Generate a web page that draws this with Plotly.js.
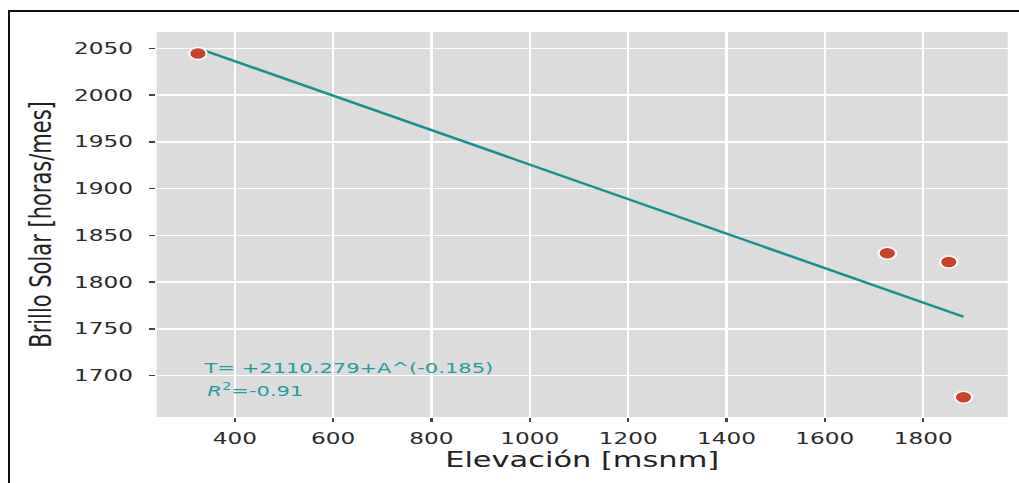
<!DOCTYPE html>
<html>
<head>
<meta charset="utf-8">
<script src="https://cdn.plot.ly/plotly-3.0.1.min.js"></script>
<style>
  html, body { margin: 0; padding: 0; background: #fff; overflow: hidden; }
  #wrap { position: absolute; left: 0; top: 0; width: 703px; height: 483px;
          transform: scaleX(1.45); transform-origin: 0 0; }
  #chart { width: 703px; height: 483px; }
  #frame { position: absolute; left: 8px; top: 10px; width: 1200px; height: 700px;
           border: 2px solid #111; pointer-events: none; }
</style>
</head>
<body>
<div id="wrap"><div id="chart"></div></div>
<div id="frame"></div>
<script>
// Observed stations
const elevation = [325, 1727, 1852, 1882];
const sunshine = [2044.5, 1830.8, 1821.5, 1677];
// Fitted trend line endpoints
const fitElevation = [325, 1882];
const fitSunshine = [2050, 1763];
const xTicks = [400, 600, 800, 1000, 1200, 1400, 1600, 1800];
const yTicks = [1700, 1750, 1800, 1850, 1900, 1950, 2000, 2050];
const eqText = 'T= +2110.279+A^(-0.185)';
const r2Text = '<i>R</i><sup>2</sup>=-0.91';

const teal = '#17918f';
const traces = [
  {
    x: fitElevation, y: fitSunshine, type: 'scatter', mode: 'lines',
    line: { color: teal, width: 2.4 }, hoverinfo: 'skip', showlegend: false
  },
  {
    x: elevation, y: sunshine, type: 'scatter', mode: 'markers',
    marker: { color: '#c8432a', size: 12, line: { color: '#ffffff', width: 1.5 } },
    showlegend: false
  }
];

const font = { family: 'DejaVu Sans, sans-serif', color: '#333' };
const layout = {
  width: 703, height: 483,
  margin: { l: 108, r: 8, t: 32, b: 66 },
  paper_bgcolor: 'rgba(0,0,0,0)',
  plot_bgcolor: '#dcdcdc',
  font: font,
  showlegend: false,
  xaxis: {
    range: [241, 1972],
    tickvals: xTicks,
    ticktext: xTicks.map(String),
    tickfont: { family: 'DejaVu Sans, sans-serif', size: 16, color: '#2a2a2a' },
    ticks: 'outside', ticklen: 4, tickwidth: 1.5, tickcolor: '#444',
    ticklabelstandoff: 3,
    showgrid: true, gridcolor: '#ffffff', gridwidth: 1.5,
    zeroline: false, showline: false,
    title: { text: 'Elevación [msnm]', font: { family: 'DejaVu Sans, sans-serif', size: 21, color: '#222' }, standoff: 2 },
    automargin: false
  },
  yaxis: {
    range: [1655.8, 2067.4],
    tickvals: yTicks,
    ticktext: yTicks.map(String),
    tickfont: { family: 'DejaVu Sans, sans-serif', size: 16, color: '#2a2a2a' },
    ticks: 'outside', ticklen: 4, tickwidth: 1.5, tickcolor: '#444',
    ticklabelstandoff: 8,
    showgrid: true, gridcolor: '#ffffff', gridwidth: 1.5,
    zeroline: false, showline: false,
    title: { text: 'Brillo Solar [horas/mes]', font: { family: 'DejaVu Sans, sans-serif', size: 21, color: '#222' }, standoff: 9 },
    automargin: false
  },
  annotations: [
    { x: 329, y: 1708, xref: 'x', yref: 'y', text: eqText, showarrow: false,
      xanchor: 'left', yanchor: 'middle', font: { family: 'DejaVu Sans, sans-serif', size: 14.5, color: '#1f9d9d' } },
    { x: 339, y: 1684.5, xref: 'x', yref: 'y', text: r2Text, showarrow: false,
      xanchor: 'left', yanchor: 'middle', font: { family: 'DejaVu Sans, sans-serif', size: 14.5, color: '#1f9d9d' } }
  ]
};

Plotly.newPlot('chart', traces, layout, { displayModeBar: false, staticPlot: true });
</script>
</body>
</html>
